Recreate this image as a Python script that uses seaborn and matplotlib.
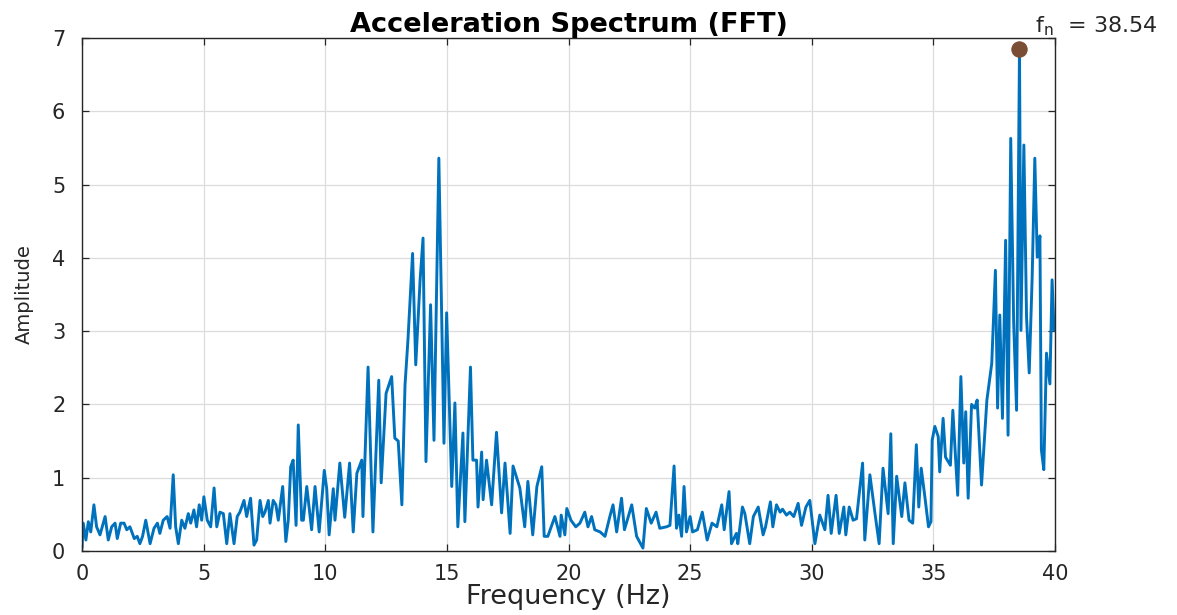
import numpy as np
import pandas as pd
import matplotlib
matplotlib.use("Agg")
import matplotlib.pyplot as plt
import seaborn as sns

freq = [0.0, 0.05, 0.16, 0.26, 0.36, 0.49, 0.60, 0.74, 0.95, 1.08, 1.22, 1.36, 1.45, 1.59, 1.73, 1.84, 1.97,
        2.15, 2.27, 2.38, 2.49, 2.62, 2.80, 2.96, 3.10, 3.20, 3.34, 3.50, 3.62, 3.75, 3.85, 3.96, 4.10, 4.23,
        4.37, 4.47, 4.60, 4.71, 4.82, 4.92, 5.01, 5.15, 5.29, 5.43, 5.54, 5.67, 5.81, 5.95, 6.08, 6.25, 6.38,
        6.49, 6.66, 6.77, 6.93, 7.07, 7.18, 7.32, 7.43, 7.52, 7.66, 7.73, 7.86, 7.97, 8.07, 8.25, 8.38, 8.48,
        8.58, 8.68, 8.80, 8.89, 9.03, 9.10, 9.24, 9.44, 9.58, 9.75, 9.96, 10.06, 10.16, 10.33, 10.40, 10.6,
        10.8, 11.0, 11.15, 11.3, 11.5, 11.55, 11.76, 11.96, 12.2, 12.3, 12.5, 12.73, 12.86, 13.0, 13.15, 13.28,
        13.4, 13.59, 13.72, 13.9, 14.02, 14.14, 14.33, 14.47, 14.67, 14.88, 14.99, 15.2, 15.33, 15.45, 15.66,
        15.74, 15.97, 16.07, 16.22, 16.28, 16.43, 16.49, 16.63, 16.84, 17.04, 17.25, 17.39, 17.6, 17.72, 18.0,
        18.2, 18.33, 18.53, 18.7, 18.9, 19.0, 19.15, 19.44, 19.65, 19.7, 19.85, 19.93, 20.1, 20.3, 20.47,
        20.67, 20.8, 20.95, 21.08, 21.3, 21.5, 21.7, 21.83, 21.98, 22.18, 22.3, 22.6, 22.8, 23.06, 23.2, 23.4,
        23.6, 23.75, 24.03, 24.17, 24.34, 24.44, 24.54, 24.65, 24.75, 24.85, 25.0, 25.1, 25.3, 25.5, 25.7,
        25.9, 26.1, 26.3, 26.4, 26.6, 26.7, 26.9, 26.96, 27.15, 27.25, 27.45, 27.6, 27.8, 28.0, 28.1, 28.3,
        28.4, 28.55, 28.7, 28.8, 28.96, 29.1, 29.26, 29.44, 29.58, 29.76, 29.92, 30.13, 30.33, 30.54, 30.67,
        30.8, 31.0, 31.13, 31.32, 31.4, 31.54, 31.7, 31.84, 32.09, 32.18, 32.39, 32.6, 32.77, 32.93, 33.14,
        33.25, 33.35, 33.49, 33.7, 33.83, 34.0, 34.15, 34.3, 34.4, 34.5, 34.65, 34.8, 34.9, 34.95, 35.06,
        35.2, 35.26, 35.4, 35.5, 35.7, 35.8, 36.0, 36.13, 36.25, 36.33, 36.43, 36.57, 36.7, 36.8, 36.98,
        37.2, 37.4, 37.55, 37.64, 37.73, 37.84, 37.97, 38.07, 38.18, 38.3, 38.42, 38.54, 38.6, 38.72, 38.83,
        38.94, 39.06, 39.17, 39.27, 39.38, 39.44, 39.54, 39.65, 39.79, 39.88, 39.96]

amplitude = [0.04, 0.38, 0.15, 0.40, 0.26, 0.63, 0.33, 0.22, 0.47, 0.15, 0.33, 0.38, 0.17, 0.38, 0.38, 0.29, 0.33,
             0.17, 0.20, 0.10, 0.20, 0.42, 0.10, 0.31, 0.38, 0.24, 0.42, 0.47, 0.31, 1.04, 0.33, 0.10, 0.42, 0.31,
             0.51, 0.38, 0.56, 0.33, 0.63, 0.42, 0.74, 0.42, 0.33, 0.86, 0.33, 0.53, 0.51, 0.10, 0.51, 0.10, 0.47,
             0.53, 0.69, 0.47, 0.72, 0.08, 0.15, 0.69, 0.47, 0.53, 0.69, 0.38, 0.69, 0.63, 0.42, 0.88, 0.13, 0.42,
             1.15, 1.24, 0.35, 1.72, 0.42, 0.42, 0.88, 0.29, 0.88, 0.26, 1.10, 0.85, 0.22, 0.85, 0.42, 1.20,
             0.46, 1.20, 0.26, 1.06, 1.24, 0.47, 2.51, 0.26, 2.33, 0.93, 2.15, 2.38, 1.54, 1.50, 0.63, 2.27,
             2.88, 4.06, 2.54, 3.70, 4.27, 1.22, 3.36, 1.51, 5.36, 1.47, 3.25, 0.88, 2.02, 0.33, 1.61,
             0.40, 2.51, 1.24, 1.24, 0.60, 1.35, 0.70, 1.24, 0.63, 1.62, 0.52, 1.20, 0.24, 1.16, 0.86,
             0.33, 0.95, 0.22, 0.88, 1.15, 0.20, 0.20, 0.47, 0.20, 0.49, 0.22, 0.58, 0.42, 0.33, 0.38,
             0.53, 0.33, 0.47, 0.29, 0.26, 0.20, 0.47, 0.63, 0.26, 0.72, 0.29, 0.63, 0.20, 0.04, 0.58, 0.38,
             0.53, 0.31, 0.33, 0.35, 1.16, 0.31, 0.49, 0.20, 0.88, 0.26, 0.47, 0.26, 0.29, 0.53, 0.15,
             0.38, 0.33, 0.63, 0.29, 0.81, 0.10, 0.24, 0.10, 0.60, 0.51, 0.10, 0.47, 0.60, 0.22, 0.33, 0.67,
             0.33, 0.63, 0.53, 0.57, 0.49, 0.53, 0.47, 0.65, 0.35, 0.60, 0.69, 0.10, 0.49, 0.29, 0.76,
             0.24, 0.76, 0.24, 0.60, 0.22, 0.60, 0.42, 0.44, 1.20, 0.15, 1.04, 0.51, 0.10, 1.13, 0.51,
             1.60, 0.10, 1.02, 0.47, 0.93, 0.42, 0.38, 1.45, 0.60, 1.13, 0.74, 0.33, 0.40, 1.51, 1.70,
             1.56, 1.08, 1.81, 1.28, 1.17, 1.92, 0.76, 2.38, 1.20, 1.90, 0.72, 2.00, 1.95, 2.06, 0.90,
             2.06, 2.56, 3.83, 1.95, 3.22, 1.81, 4.24, 1.58, 5.63, 3.13, 1.92, 6.85, 3.01, 5.54, 3.19,
             2.43, 3.72, 5.36, 4.01, 4.30, 1.38, 1.11, 2.70, 2.28, 3.70, 3.01]

x_ticks = [0, 5, 10, 15, 20, 25, 30, 35, 40]
y_ticks = [0, 1, 2, 3, 4, 5, 6, 7]
title_text = "Acceleration Spectrum (FFT)"
x_label = "Frequency (Hz)"
y_label = "Amplitude"
peak_freq = 38.54

df = pd.DataFrame({"Frequency": freq, "Amplitude": amplitude})
peak_idx = int(np.argmax(df["Amplitude"].values))
peak_df = df.iloc[[peak_idx]]

sns.set_theme(style="whitegrid")
plt.rcParams['font.family'] = ['DejaVu Sans']

fig = plt.figure(figsize=(11.77, 6.15), dpi=100)
ax = fig.add_axes([82 / 1177, 1 - 551 / 615, (1055 - 82) / 1177, (551 - 38) / 615])
ax.set_facecolor("white")

sns.lineplot(data=df, x="Frequency", y="Amplitude", ax=ax, color="#0072BD", linewidth=2.1)
sns.scatterplot(data=peak_df, x="Frequency", y="Amplitude", ax=ax, color="#7A4E35",
                s=120, edgecolor="#7A4E35", zorder=5, clip_on=False)

ax.set_xlim(0, 40)
ax.set_ylim(0, 7)
ax.set_xticks(x_ticks)
ax.set_yticks(y_ticks)
ax.grid(True, color="#DCDCDC", linewidth=0.9)
for s in ax.spines.values():
    s.set_visible(True)
    s.set_color("#262626")
    s.set_linewidth(1.0)
ax.tick_params(axis="both", direction="in", length=5, width=0.9, color="#262626",
               labelsize=15, top=True, right=True, bottom=True, left=True,
               labelcolor="#262626")
ax.tick_params(axis="x", pad=9)
ax.tick_params(axis="y", pad=12)

ax.set_title(title_text, fontsize=19.5, fontweight="bold", color="black", pad=4)
ax.set_xlabel(x_label, fontsize=19.5, color="#262626", labelpad=0)
ax.set_ylabel(y_label, fontsize=14, color="#262626", labelpad=13)

ax.text(39.18, 7.07, "f$_{\\mathregular{n}}$  = %.2f" % peak_freq, fontsize=16,
        color="#262626", ha="left", va="baseline", clip_on=False)

fig.savefig("out.png", dpi=100)
